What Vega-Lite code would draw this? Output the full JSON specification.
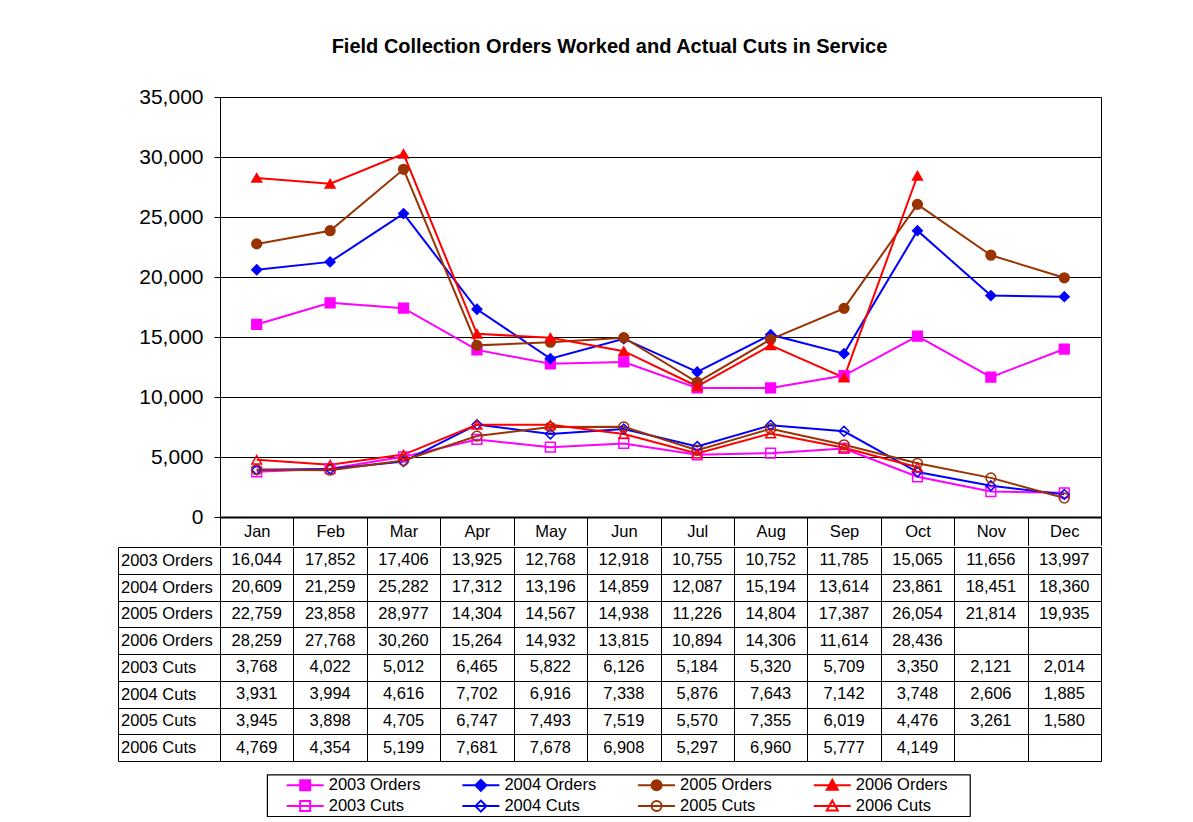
{
  "$schema": "https://vega.github.io/schema/vega-lite/v6.json",
  "padding": {"left": 117, "top": 37, "right": 10, "bottom": 3},
  "title": {"text": "Field Collection Orders Worked and Actual Cuts in Service", "fontSize": 20, "fontWeight": "bold", "font": "Liberation Sans", "color": "black", "offset": 28.5, "anchor": "middle"},
  "datasets": {
    "vals": [
      {"m":"Jan","s":"2003 Orders","v":16044},{"m":"Feb","s":"2003 Orders","v":17852},{"m":"Mar","s":"2003 Orders","v":17406},{"m":"Apr","s":"2003 Orders","v":13925},{"m":"May","s":"2003 Orders","v":12768},{"m":"Jun","s":"2003 Orders","v":12918},{"m":"Jul","s":"2003 Orders","v":10755},{"m":"Aug","s":"2003 Orders","v":10752},{"m":"Sep","s":"2003 Orders","v":11785},{"m":"Oct","s":"2003 Orders","v":15065},{"m":"Nov","s":"2003 Orders","v":11656},{"m":"Dec","s":"2003 Orders","v":13997},
      {"m":"Jan","s":"2004 Orders","v":20609},{"m":"Feb","s":"2004 Orders","v":21259},{"m":"Mar","s":"2004 Orders","v":25282},{"m":"Apr","s":"2004 Orders","v":17312},{"m":"May","s":"2004 Orders","v":13196},{"m":"Jun","s":"2004 Orders","v":14859},{"m":"Jul","s":"2004 Orders","v":12087},{"m":"Aug","s":"2004 Orders","v":15194},{"m":"Sep","s":"2004 Orders","v":13614},{"m":"Oct","s":"2004 Orders","v":23861},{"m":"Nov","s":"2004 Orders","v":18451},{"m":"Dec","s":"2004 Orders","v":18360},
      {"m":"Jan","s":"2005 Orders","v":22759},{"m":"Feb","s":"2005 Orders","v":23858},{"m":"Mar","s":"2005 Orders","v":28977},{"m":"Apr","s":"2005 Orders","v":14304},{"m":"May","s":"2005 Orders","v":14567},{"m":"Jun","s":"2005 Orders","v":14938},{"m":"Jul","s":"2005 Orders","v":11226},{"m":"Aug","s":"2005 Orders","v":14804},{"m":"Sep","s":"2005 Orders","v":17387},{"m":"Oct","s":"2005 Orders","v":26054},{"m":"Nov","s":"2005 Orders","v":21814},{"m":"Dec","s":"2005 Orders","v":19935},
      {"m":"Jan","s":"2006 Orders","v":28259},{"m":"Feb","s":"2006 Orders","v":27768},{"m":"Mar","s":"2006 Orders","v":30260},{"m":"Apr","s":"2006 Orders","v":15264},{"m":"May","s":"2006 Orders","v":14932},{"m":"Jun","s":"2006 Orders","v":13815},{"m":"Jul","s":"2006 Orders","v":10894},{"m":"Aug","s":"2006 Orders","v":14306},{"m":"Sep","s":"2006 Orders","v":11614},{"m":"Oct","s":"2006 Orders","v":28436},
      {"m":"Jan","s":"2003 Cuts","v":3768},{"m":"Feb","s":"2003 Cuts","v":4022},{"m":"Mar","s":"2003 Cuts","v":5012},{"m":"Apr","s":"2003 Cuts","v":6465},{"m":"May","s":"2003 Cuts","v":5822},{"m":"Jun","s":"2003 Cuts","v":6126},{"m":"Jul","s":"2003 Cuts","v":5184},{"m":"Aug","s":"2003 Cuts","v":5320},{"m":"Sep","s":"2003 Cuts","v":5709},{"m":"Oct","s":"2003 Cuts","v":3350},{"m":"Nov","s":"2003 Cuts","v":2121},{"m":"Dec","s":"2003 Cuts","v":2014},
      {"m":"Jan","s":"2004 Cuts","v":3931},{"m":"Feb","s":"2004 Cuts","v":3994},{"m":"Mar","s":"2004 Cuts","v":4616},{"m":"Apr","s":"2004 Cuts","v":7702},{"m":"May","s":"2004 Cuts","v":6916},{"m":"Jun","s":"2004 Cuts","v":7338},{"m":"Jul","s":"2004 Cuts","v":5876},{"m":"Aug","s":"2004 Cuts","v":7643},{"m":"Sep","s":"2004 Cuts","v":7142},{"m":"Oct","s":"2004 Cuts","v":3748},{"m":"Nov","s":"2004 Cuts","v":2606},{"m":"Dec","s":"2004 Cuts","v":1885},
      {"m":"Jan","s":"2005 Cuts","v":3945},{"m":"Feb","s":"2005 Cuts","v":3898},{"m":"Mar","s":"2005 Cuts","v":4705},{"m":"Apr","s":"2005 Cuts","v":6747},{"m":"May","s":"2005 Cuts","v":7493},{"m":"Jun","s":"2005 Cuts","v":7519},{"m":"Jul","s":"2005 Cuts","v":5570},{"m":"Aug","s":"2005 Cuts","v":7355},{"m":"Sep","s":"2005 Cuts","v":6019},{"m":"Oct","s":"2005 Cuts","v":4476},{"m":"Nov","s":"2005 Cuts","v":3261},{"m":"Dec","s":"2005 Cuts","v":1580},
      {"m":"Jan","s":"2006 Cuts","v":4769},{"m":"Feb","s":"2006 Cuts","v":4354},{"m":"Mar","s":"2006 Cuts","v":5199},{"m":"Apr","s":"2006 Cuts","v":7681},{"m":"May","s":"2006 Cuts","v":7678},{"m":"Jun","s":"2006 Cuts","v":6908},{"m":"Jul","s":"2006 Cuts","v":5297},{"m":"Aug","s":"2006 Cuts","v":6960},{"m":"Sep","s":"2006 Cuts","v":5777},{"m":"Oct","s":"2006 Cuts","v":4149}
    ],
    "leg": [
      {"s":"2003 Orders","yr":"2003","k":"Orders"},{"s":"2004 Orders","yr":"2004","k":"Orders"},{"s":"2005 Orders","yr":"2005","k":"Orders"},{"s":"2006 Orders","yr":"2006","k":"Orders"},
      {"s":"2003 Cuts","yr":"2003","k":"Cuts"},{"s":"2004 Cuts","yr":"2004","k":"Cuts"},{"s":"2005 Cuts","yr":"2005","k":"Cuts"},{"s":"2006 Cuts","yr":"2006","k":"Cuts"}
    ]
  },
  "spacing": -10.5,
  "vconcat": [
    {
      "data": {"name": "vals"},
      "width": 881,
      "height": 420,
      "encoding": {
        "x": {"field": "m", "type": "ordinal", "sort": ["Jan","Feb","Mar","Apr","May","Jun","Jul","Aug","Sep","Oct","Nov","Dec"],
              "scale": {"type": "band", "paddingInner": 0, "paddingOuter": 0},
              "axis": {"title": null, "orient": "bottom", "minExtent": 0, "tickBand": "extent", "tickSize": 28.3, "tickColor": "black", "labelPadding": -14, "labelBaseline": "middle", "labelAngle": 0, "labelFontSize": 16.5, "domainColor": "black", "domainWidth": 2, "grid": false}},
        "y": {"field": "v", "type": "quantitative",
              "scale": {"domain": [0, 35000], "nice": false},
              "axis": {"title": null, "values": [0,5000,10000,15000,20000,25000,30000,35000], "labelExpr": "format(datum.value, ',')", "labelFontSize": 21, "tickSize": 6, "tickColor": "black", "labelPadding": 11, "domainColor": "black", "grid": true, "gridColor": "black", "gridOpacity": 1}}
      },
      "layer": [
        {
          "mark": {"type": "line", "strokeWidth": 2},
          "encoding": {
            "stroke": {"field": "s", "type": "nominal", "legend": null,
                       "scale": {"domain": ["2003 Orders","2004 Orders","2005 Orders","2006 Orders","2003 Cuts","2004 Cuts","2005 Cuts","2006 Cuts"],
                                 "range": ["#FF00FF","#0000FF","#993300","#FF0000","#FF00FF","#0000FF","#993300","#FF0000"]}}
          }
        },
        {
          "mark": {"type": "point", "filled": false, "size": 95, "strokeWidth": 1.5, "opacity": 1},
          "encoding": {
            "stroke": {"field": "s", "type": "nominal", "legend": null},
            "fill": {"field": "s", "type": "nominal", "legend": null,
                     "scale": {"domain": ["2003 Orders","2004 Orders","2005 Orders","2006 Orders","2003 Cuts","2004 Cuts","2005 Cuts","2006 Cuts"],
                               "range": ["#FF00FF","#0000FF","#993300","#FF0000","transparent","transparent","transparent","transparent"]}},
            "shape": {"field": "s", "type": "nominal", "legend": null,
                      "scale": {"domain": ["2003 Orders","2004 Orders","2005 Orders","2006 Orders","2003 Cuts","2004 Cuts","2005 Cuts","2006 Cuts"],
                                "range": ["square","diamond","circle","triangle-up","square","diamond","circle","triangle-up"]}}
          }
        }
      ]
    },
    {
      "data": {"name": "vals"},
      "width": 881,
      "height": 214,
      "mark": {"type": "text", "fontSize": 16.5, "font": "Liberation Sans", "color": "black", "baseline": "middle", "align": "center"},
      "encoding": {
        "x": {"field": "m", "type": "ordinal", "sort": ["Jan","Feb","Mar","Apr","May","Jun","Jul","Aug","Sep","Oct","Nov","Dec"],
              "scale": {"type": "band", "paddingInner": 0, "paddingOuter": 0},
              "axis": {"title": null, "labels": false, "ticks": false, "domain": false, "grid": true, "gridColor": "black", "gridOpacity": 1, "tickBand": "extent", "minExtent": 0}},
        "y": {"field": "s", "type": "ordinal", "sort": ["2003 Orders","2004 Orders","2005 Orders","2006 Orders","2003 Cuts","2004 Cuts","2005 Cuts","2006 Cuts"],
              "scale": {"type": "band", "paddingInner": 0, "paddingOuter": 0},
              "axis": {"title": null, "offset": 102, "tickBand": "extent", "tickSize": -983, "tickColor": "black", "domainColor": "black", "labelAlign": "left", "labelBaseline": "middle", "labelPadding": 980.5, "labelFontSize": 16.5, "grid": false}},
        "text": {"field": "v", "type": "quantitative", "format": ","}
      }
    },
    {
      "width": 881,
      "height": 54.5,
      "view": {"stroke": null},
      "layer": [
        {
          "data": {"values": [{}]},
          "mark": {"type": "rect", "fill": "transparent", "stroke": "black", "strokeWidth": 1.2},
          "encoding": {
            "x": {"datum": "2003", "type": "ordinal", "bandPosition": 0,
                  "scale": {"type": "band", "domain": ["2003","2004","2005","2006"], "paddingInner": 0, "paddingOuter": 0.5071, "align": 0.266}, "axis": null},
            "x2": {"datum": "2006", "bandPosition": 1},
            "y": {"datum": "Orders", "type": "ordinal", "bandPosition": 0,
                  "scale": {"type": "band", "domain": ["Orders","Cuts"], "paddingInner": 0, "paddingOuter": 0.31, "align": 1}, "axis": null},
            "y2": {"datum": "Cuts", "bandPosition": 1}
          }
        },
        {
          "data": {"name": "leg"},
          "mark": {"type": "point", "size": 100, "strokeWidth": 2, "opacity": 1, "filled": false},
          "encoding": {
            "x": {"field": "yr", "type": "ordinal", "bandPosition": 0.215},
            "y": {"field": "k", "type": "ordinal"},
            "stroke": {"field": "s", "type": "nominal", "legend": null},
            "fill": {"field": "s", "type": "nominal", "legend": null},
            "shape": {"field": "s", "type": "nominal", "legend": null,
                      "scale": {"domain": ["2003 Orders","2004 Orders","2005 Orders","2006 Orders","2003 Cuts","2004 Cuts","2005 Cuts","2006 Cuts"],
                                "range": ["M-3.7,0H3.7M-1,-1H1V1H-1Z","M-3.7,0H3.7M-1.1,0L0,-1.1L1.1,0L0,1.1Z","M-3.7,0H3.7M1,0A1,1,0,1,1,-1,0A1,1,0,1,1,1,0Z","M-3.7,0H3.7M0,-1.1L1.1,0.9H-1.1Z","M-3.7,0H3.7M-1,-1H1V1H-1Z","M-3.7,0H3.7M-1.1,0L0,-1.1L1.1,0L0,1.1Z","M-3.7,0H3.7M1,0A1,1,0,1,1,-1,0A1,1,0,1,1,1,0Z","M-3.7,0H3.7M0,-1.1L1.1,0.9H-1.1Z"]}}
          }
        },
        {
          "data": {"name": "leg"},
          "mark": {"type": "text", "align": "left", "baseline": "middle", "fontSize": 16.5, "font": "Liberation Sans", "color": "black"},
          "encoding": {
            "x": {"field": "yr", "type": "ordinal", "bandPosition": 0.349},
            "y": {"field": "k", "type": "ordinal"},
            "text": {"field": "s", "type": "nominal"}
          }
        }
      ]
    }
  ],
  "resolve": {"scale": {"x": "independent", "y": "independent", "shape": "independent"}},
  "config": {
    "font": "Liberation Sans",
    "view": {"stroke": "black", "strokeWidth": 1},
    "axis": {"labelFont": "Liberation Sans", "labelColor": "black"}
  }
}
